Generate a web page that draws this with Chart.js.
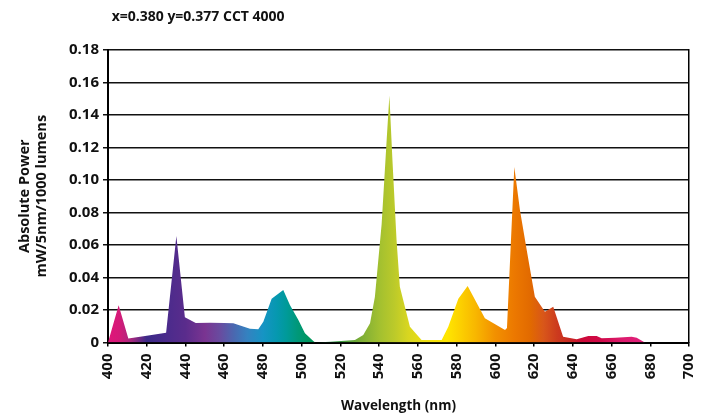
<!DOCTYPE html>
<html>
<head>
<meta charset="utf-8">
<script src="https://cdn.jsdelivr.net/npm/chart.js@4/dist/chart.umd.min.js"></script>
<style>
  html, body { margin: 0; padding: 0; background: #fff; }
  #wrap { width: 712px; height: 416px; }
</style>
</head>
<body>
<div id="wrap"><canvas id="spd"></canvas></div>
<script>
// spectrum (nm, mW/5nm/1000 lm)
const wavelengths = [400, 405.5, 410.5, 420, 430, 435.3, 439.7, 445.3, 452.7, 460, 464.7, 473.3, 477.6, 480.2, 484.5, 490.5, 494, 498.3, 501.7, 506, 507,
  515, 527.5, 531.8, 535.3, 537.8, 541.3, 543.9, 545.3, 546.8, 549, 550.7, 555.9, 561.9, 566, 572.3, 575.7, 580.9, 585.7, 594.6, 605, 606,
  609.8, 612.7, 616.2, 620.4, 625.6, 629.9, 635, 642, 648, 652.3, 654.9, 662, 670.4, 673, 677.2, 700]
const power = [0, 0.023, 0.0025, 0.0042, 0.006, 0.0655, 0.0155, 0.012, 0.0122, 0.012, 0.0118, 0.0085, 0.0081, 0.0128, 0.027, 0.0323, 0.023, 0.0138, 0.0057, 0.001, 0,
  0.0005, 0.0015, 0.0046, 0.0118, 0.028, 0.073, 0.125, 0.152, 0.114, 0.063, 0.0343, 0.0097, 0.0015, 0.0015, 0.0015, 0.0097, 0.027, 0.0348, 0.0149, 0.0077, 0.009,
  0.108, 0.0815, 0.057, 0.0282, 0.019, 0.022, 0.0036, 0.002, 0.004, 0.004, 0.0026, 0.003, 0.0036, 0.003, 0, 0]

const xTicks = [400, 420, 440, 460, 480, 500, 520, 540, 560, 580, 600, 620, 640, 660, 680, 700]
const yTicks = [0, 0.02, 0.04, 0.06, 0.08, 0.10, 0.12, 0.14, 0.16, 0.18]

const chartTitle = 'x=0.380 y=0.377 CCT 4000'
const yTitle = ['Absolute Power', 'mW/5nm/1000 lumens']
const xTitle = 'Wavelength (nm)'

// colour of the fill along the spectrum
const spectrum = [[400,'#e0167a'],[406,'#d41a78'],[412,'#a8287e'],[420,'#3c2a88'],[430,'#4a2b8c'],[440,'#5a2c8c'],[450,'#7a3491'],
  [458,'#684ca0'],[465,'#4a68b0'],[472,'#3482c0'],[480,'#1694c4'],[487,'#0698b0'],[492,'#009a9a'],[498,'#009878'],[505,'#00965a'],
  [520,'#3a9a40'],[530,'#7aac36'],[540,'#a2c030'],[548,'#bcca2a'],[555,'#d8d620'],[565,'#f0e010'],[575,'#ffe600'],[582,'#fcd000'],
  [590,'#f8b600'],[600,'#f29000'],[610,'#ec7800'],[618,'#e26a00'],[625,'#d8561a'],[632,'#cc3a1e'],[638,'#c82a22'],[645,'#cc0a38'],
  [655,'#d00a4a'],[665,'#dc1a6c'],[675,'#e0207a'],[700,'#e0207a']]

const font = "'Open Sans', 'DejaVu Sans', sans-serif"

const spectrumFill = function(context){
  const chart = context.chart
  const {ctx, chartArea, scales} = chart
  if(!chartArea) return '#888'
  const x0 = scales.x.getPixelForValue(400), x1 = scales.x.getPixelForValue(700)
  const g = ctx.createLinearGradient(x0, 0, x1, 0)
  spectrum.forEach(s => g.addColorStop((s[0] - 400) / 300, s[1]))
  return g
}

new Chart(document.getElementById('spd'), {
  type: 'line',
  data: {
    datasets: [{
      data: wavelengths.map((w, i) => ({x: w, y: power[i]})),
      backgroundColor: spectrumFill,
      borderWidth: 0,
      pointRadius: 0,
      fill: 'origin',
      tension: 0
    }]
  },
  options: {
    responsive: true,
    maintainAspectRatio: false,
    animation: false,
    layout: { padding: 0 },
    plugins: {
      legend: { display: false },
      tooltip: { enabled: false },
      title: {
        display: true,
        text: ' ' + chartTitle,
        align: 'start',
        fullSize: false,
        color: '#111',
        font: { family: font, size: 14, weight: 'bold', lineHeight: 1.2 },
        padding: { top: 8.6, bottom: 24.6 }
      }
    },
    scales: {
      x: {
        type: 'linear',
        min: 400, max: 700,
        afterFit: s => { s.height = 73.5; s.paddingLeft = 0; s.paddingRight = 0 },
        afterBuildTicks: s => { s.ticks = xTicks.map(v => ({value: v})) },
        grid: { drawOnChartArea: false, color: '#000', tickLength: 4, lineWidth: 1.5 },
        border: { color: '#000', width: 2 },
        ticks: { color: '#111', minRotation: 90, maxRotation: 90, padding: 7, font: { family: font, size: 15, weight: 'bold' } },
        title: { display: true, text: xTitle, color: '#111', padding: { top: 0, bottom: 1.5 }, font: { family: font, size: 13.5, weight: 'bold' } }
      },
      y: {
        min: 0, max: 0.18,
        afterFit: s => { s.width = 108 },
        afterBuildTicks: s => { s.ticks = yTicks.map(v => ({value: v})) },
        grid: { color: '#111', lineWidth: 1.5, tickLength: 5 },
        border: { color: '#000', width: 2 },
        ticks: { color: '#111', padding: 4, font: { family: font, size: 15, weight: 'bold' },
          callback: v => v === 0 ? '0' : v.toFixed(2) },
        title: { display: true, text: yTitle, color: '#111', padding: { top: 16.6, bottom: 0 }, font: { family: font, size: 14.5, weight: 'bold', lineHeight: 1.15 } }
      },
      y2: {
        position: 'right',
        min: 0, max: 0.18,
        afterFit: s => { s.width = 23; s.paddingTop = 0; s.paddingBottom = 0 },
        grid: { display: false },
        border: { display: true, color: '#000', width: 1.5 },
        ticks: { display: false }
      }
    }
  }
})
</script>
</body>
</html>
